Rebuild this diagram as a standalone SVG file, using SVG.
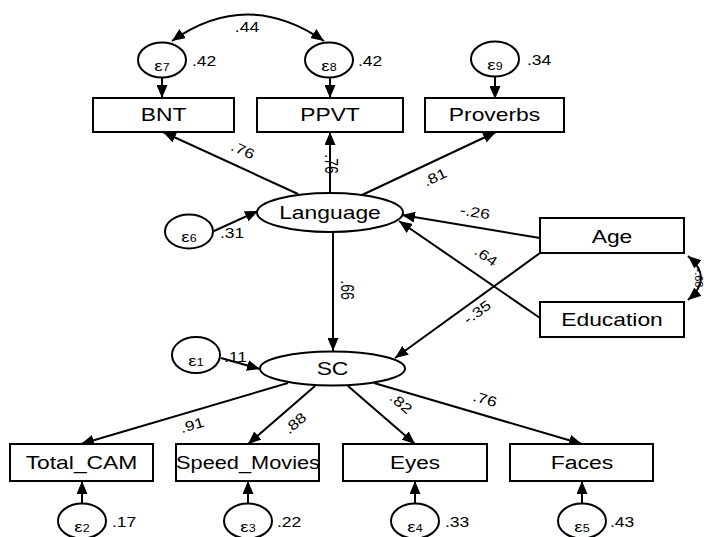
<svg xmlns="http://www.w3.org/2000/svg" width="707" height="537" viewBox="0 0 707 537">
<defs>
<marker id="ah" viewBox="0 0 13 11" refX="13" refY="5.5" markerWidth="13" markerHeight="11" markerUnits="userSpaceOnUse" orient="auto-start-reverse"><path d="M0,0 L13,5.5 L0,11 z" fill="#000"/></marker>
<style>
.shape{fill:#fff;stroke:#000;stroke-width:2}
.t{font-family:"Liberation Sans",Arial,sans-serif;font-size:18px;text-anchor:middle;fill:#000}
.n{font-family:"Liberation Sans",Arial,sans-serif;font-size:14px;text-anchor:middle;fill:#000}
.r{font-family:"Liberation Sans",Arial,sans-serif;font-size:14px;text-anchor:start;fill:#000}
.e{font-family:"Liberation Sans",Arial,sans-serif;font-size:15px;text-anchor:middle;fill:#000}
.sub{font-size:10px}
.c{stroke:#000;stroke-width:2;fill:none;marker-end:url(#ah)}
.cc{stroke:#000;stroke-width:2;fill:none;marker-end:url(#ah);marker-start:url(#ah)}
</style>
</defs>
<rect width="707" height="537" fill="#fff"/>

<g id="connectors">
<path class="cc" d="M172,41 Q247,-12 324,41"/>
<path class="cc" d="M688,256 Q714,278 688,300"/>
<line class="c" x1="162" y1="78" x2="162" y2="98"/>
<line class="c" x1="330" y1="78" x2="330" y2="98"/>
<line class="c" x1="495" y1="77" x2="495" y2="99"/>
<line class="c" x1="298" y1="194" x2="163" y2="132"/>
<line class="c" x1="330" y1="193" x2="330" y2="132"/>
<line class="c" x1="362" y1="195" x2="496" y2="132"/>
<line class="c" x1="214" y1="231" x2="258" y2="211"/>
<line class="c" x1="540" y1="238" x2="402" y2="215"/>
<line class="c" x1="540" y1="318" x2="399" y2="221"/>
<line class="c" x1="540" y1="253" x2="395" y2="358"/>
<line class="c" x1="333" y1="232" x2="333" y2="351"/>
<line class="c" x1="221" y1="358" x2="260" y2="369"/>
<line class="c" x1="288" y1="383" x2="81" y2="444"/>
<line class="c" x1="315" y1="386" x2="248" y2="444"/>
<line class="c" x1="348" y1="386" x2="415" y2="444"/>
<line class="c" x1="374" y1="383" x2="582" y2="444"/>
<line class="c" x1="82" y1="503" x2="82" y2="481"/>
<line class="c" x1="248" y1="503" x2="248" y2="481"/>
<line class="c" x1="415" y1="503" x2="415" y2="481"/>
<line class="c" x1="582" y1="503" x2="582" y2="481"/>
</g>

<g id="path-labels">
<text class="n" transform="translate(247,27) scale(1.25,1)" y="5">.44</text>
<text class="n" transform="translate(243,150) rotate(24.7) scale(1.25,1)" y="5">.76</text>
<text class="n" transform="translate(331,164) rotate(90) scale(1,1.25)" y="5">.76</text>
<text class="n" transform="translate(435,177) rotate(-25.3) scale(1.25,1)" y="5">.81</text>
<text class="n" transform="translate(475,212) rotate(9.4) scale(1.25,1)" y="5">-.26</text>
<text class="n" transform="translate(486,256) rotate(34.7) scale(1.25,1)" y="5">.64</text>
<text class="n" transform="translate(477,312) rotate(-35.9) scale(1.25,1)" y="5">-.35</text>
<text class="n" transform="translate(347,290) rotate(90) scale(1,1.25)" y="5">.66</text>
<text class="n" transform="translate(192,425) rotate(-16.4) scale(1.25,1)" y="5">.91</text>
<text class="n" transform="translate(295,423) rotate(-40.4) scale(1.25,1)" y="5">.88</text>
<text class="n" transform="translate(401,403) rotate(39.9) scale(1.25,1)" y="5">.82</text>
<text class="n" transform="translate(485,399) rotate(16) scale(1.25,1)" y="5">.76</text>
<text class="n" style="font-size:11px" transform="translate(699,278) rotate(90)" y="4">-.68</text>
</g>

<g id="e7"><ellipse class="shape" cx="162" cy="60" rx="24" ry="17.5"/><text class="e" transform="translate(162,71) scale(1.25,1)">ε<tspan class="sub">7</tspan></text><text class="r" transform="translate(192,66) scale(1.25,1)">.42</text></g>
<g id="e8"><ellipse class="shape" cx="329" cy="60" rx="24" ry="17.5"/><text class="e" transform="translate(329,71) scale(1.25,1)">ε<tspan class="sub">8</tspan></text><text class="r" transform="translate(358,66) scale(1.25,1)">.42</text></g>
<g id="e9"><ellipse class="shape" cx="495" cy="59" rx="24" ry="17.5"/><text class="e" transform="translate(495,70) scale(1.25,1)">ε<tspan class="sub">9</tspan></text><text class="r" transform="translate(527,65) scale(1.25,1)">.34</text></g>

<g id="BNT"><rect class="shape" x="93" y="98" width="141" height="34"/><text class="t" transform="translate(163.5,121) scale(1.27,1)">BNT</text></g>
<g id="PPVT"><rect class="shape" x="257" y="98" width="146" height="34"/><text class="t" transform="translate(330,121) scale(1.27,1)">PPVT</text></g>
<g id="Proverbs"><rect class="shape" x="425" y="98" width="139" height="34"/><text class="t" transform="translate(494.5,121) scale(1.27,1)">Proverbs</text></g>

<g id="Language"><ellipse class="shape" cx="330" cy="212.5" rx="73" ry="19.5"/><text class="t" transform="translate(330,219) scale(1.27,1)">Language</text></g>
<g id="e6"><ellipse class="shape" cx="189" cy="231.5" rx="24" ry="17"/><text class="e" transform="translate(189,242) scale(1.25,1)">ε<tspan class="sub">6</tspan></text><text class="r" transform="translate(220,238) scale(1.25,1)">.31</text></g>

<g id="Age"><rect class="shape" x="540" y="218" width="144" height="35"/><text class="t" transform="translate(612,243) scale(1.27,1)">Age</text></g>
<g id="Education"><rect class="shape" x="540" y="302" width="144" height="35"/><text class="t" transform="translate(612,326) scale(1.27,1)">Education</text></g>

<g id="SC"><ellipse class="shape" cx="332.5" cy="368.5" rx="72.5" ry="17"/><text class="t" transform="translate(332.5,375) scale(1.27,1)">SC</text></g>
<g id="e1"><ellipse class="shape" cx="196" cy="355" rx="24" ry="18"/><text class="e" transform="translate(196,366) scale(1.25,1)">ε<tspan class="sub">1</tspan></text><text class="r" transform="translate(224,362) scale(1.25,1)">.11</text></g>

<g id="Total_CAM"><rect class="shape" x="10" y="444" width="143" height="37"/><text class="t" transform="translate(81.5,469) scale(1.27,1)">Total_CAM</text></g>
<g id="Speed_Movies"><rect class="shape" x="176" y="444" width="143" height="37"/><text class="t" transform="translate(248,469) scale(1.21,1)">Speed_Movies</text></g>
<g id="Eyes"><rect class="shape" x="343" y="444" width="144" height="37"/><text class="t" transform="translate(415,469) scale(1.25,1)">Eyes</text></g>
<g id="Faces"><rect class="shape" x="510" y="444" width="143" height="37"/><text class="t" transform="translate(582,469) scale(1.28,1)">Faces</text></g>

<g id="e2"><ellipse class="shape" cx="82" cy="521" rx="24" ry="17.5"/><text class="e" transform="translate(82,532) scale(1.25,1)">ε<tspan class="sub">2</tspan></text><text class="r" transform="translate(112,527) scale(1.25,1)">.17</text></g>
<g id="e3"><ellipse class="shape" cx="248" cy="521" rx="24" ry="17.5"/><text class="e" transform="translate(248,532) scale(1.25,1)">ε<tspan class="sub">3</tspan></text><text class="r" transform="translate(277,527) scale(1.25,1)">.22</text></g>
<g id="e4"><ellipse class="shape" cx="415" cy="521" rx="24" ry="17.5"/><text class="e" transform="translate(415,532) scale(1.25,1)">ε<tspan class="sub">4</tspan></text><text class="r" transform="translate(445,527) scale(1.25,1)">.33</text></g>
<g id="e5"><ellipse class="shape" cx="582" cy="521" rx="24" ry="17.5"/><text class="e" transform="translate(582,532) scale(1.25,1)">ε<tspan class="sub">5</tspan></text><text class="r" transform="translate(610,527) scale(1.25,1)">.43</text></g>
</svg>
